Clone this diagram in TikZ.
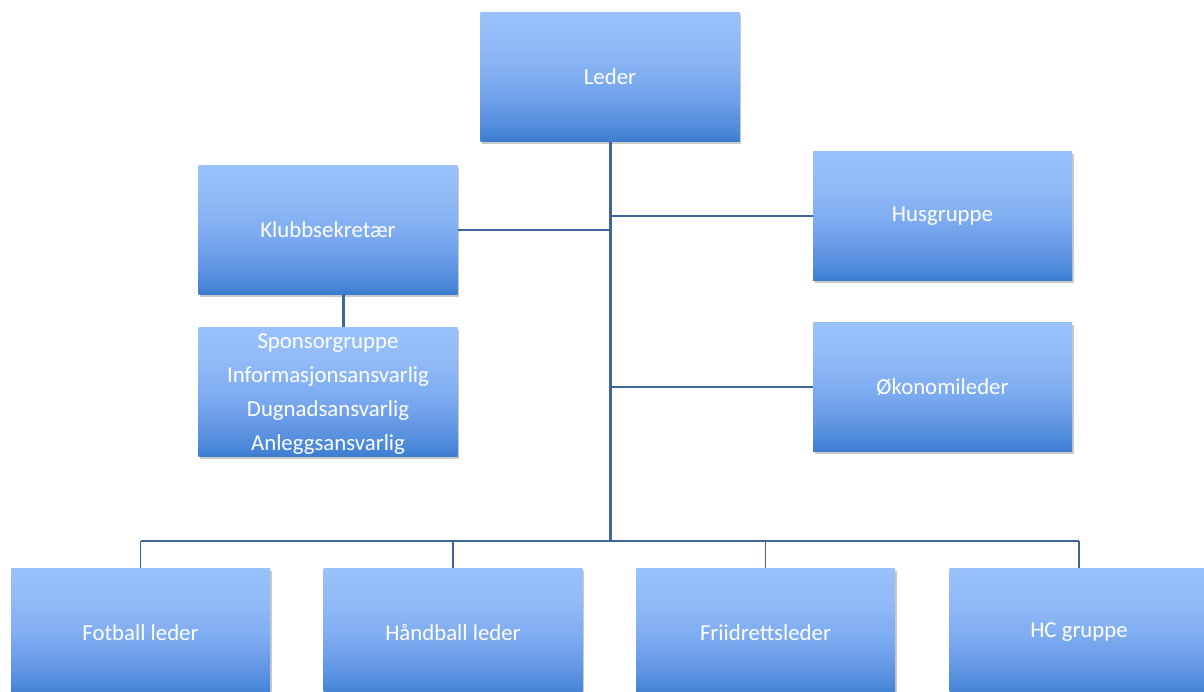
\documentclass[tikz,border=0pt]{standalone}
\usepackage{fontspec}
\setmainfont{Carlito}
\usetikzlibrary{shadows}
\definecolor{c0}{HTML}{3C7CD0}
\definecolor{c1}{HTML}{4F8BDB}
\definecolor{c2}{HTML}{6C9DE8}
\definecolor{c3}{HTML}{80AEF2}
\definecolor{c4}{HTML}{92BAF7}
\definecolor{c5}{HTML}{99C1FA}
\definecolor{lc}{HTML}{3E6699}
\pgfdeclareverticalshading{orgshade}{100bp}{color(0bp)=(c0); color(25bp)=(c0); color(30bp)=(c1); color(40bp)=(c2); color(50bp)=(c3); color(62.5bp)=(c4); color(75bp)=(c5); color(100bp)=(c5)}
\tikzset{
  orgfont/.style={text=white, font=\fontsize{22.8}{34}\selectfont, align=center},
  orgbox/.style={rectangle, minimum width=259pt, minimum height=129pt, inner sep=0pt,
    shading=orgshade, orgfont,
    drop shadow={shadow xshift=1.5pt, shadow yshift=-2.5pt, opacity=0.35, fill=black!60}},
  trunk/.style={draw=lc, line width=3pt},
  branch/.style={draw=lc, line width=2pt},
  drop/.style={draw=lc, line width=1.6pt}
}
\begin{document}
\begin{tikzpicture}[x=1pt,y=-1pt]
\useasboundingbox (0,0) rectangle (1204,691);
\clip (0,0) rectangle (1204,691);
\fill[white] (0,0) rectangle (1204,691);
\coordinate (bus) at (610,541);
\coordinate (busL) at (140.5,541);
\coordinate (busR) at (1079,541);
% boxes
\node[orgbox] (leder) at (610,77) {Leder};
\node[orgbox] (klubb) at (328,229.5) {Klubbsekretær};
\node[orgbox] (spons) at (328,392) {};
\node[orgfont, inner sep=0pt] (sponstext) at ([yshift=-2.5pt]spons.center) {Sponsorgruppe\\Informasjonsansvarlig\\Dugnadsansvarlig\\Anleggsansvarlig};
\node[orgbox] (hus) at (942.5,216) {Husgruppe};
\node[orgbox] (oko) at (942.5,387) {Økonomileder};
\node[orgbox] (fot) at (140.5,632.5) {Fotball leder};
\node[orgbox] (hand) at (453,632.5) {Håndball leder};
\node[orgbox] (fri) at (765.5,632.5) {Friidrettsleder};
\node[orgbox] (hc) at (1079,632.5) {HC gruppe};
% lines
\draw[trunk] (leder.south) -- (bus);
\draw[branch] (klubb.east) -- (klubb.east -| bus);
\draw[branch] (hus.west) -- (hus.west -| bus);
\draw[branch] (oko.west) -- (oko.west -| bus);
\draw[branch] (busL) -- (busR);
\draw[drop] (busL) -- (fot.north);
\draw[drop] (hand.north |- bus) -- (hand.north);
\draw[drop] (fri.north |- bus) -- (fri.north);
\draw[drop] (busR) -- (hc.north);
\draw[trunk] ([xshift=15pt]klubb.south) -- ([xshift=15pt]spons.north);
\end{tikzpicture}
\end{document}
